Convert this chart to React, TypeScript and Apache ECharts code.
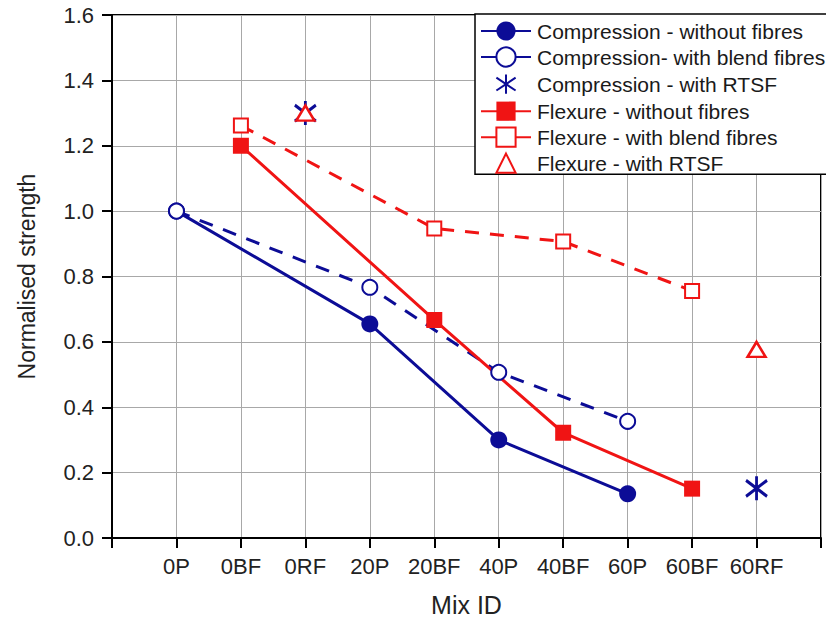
import { useEffect, useRef } from 'react';
import * as echarts from 'echarts';

const mixIds = ['', '0P', '0BF', '0RF', '20P', '20BF', '40P', '40BF', '60P', '60BF', '60RF', ''];
const compWithout = [null, 1.0, null, null, 0.655, null, 0.30, null, 0.135, null, null, null];
const compBlend = [null, 1.0, null, null, 0.767, null, 0.507, null, 0.357, null, null, null];
const compRTSF = [null, null, null, 1.30, null, null, null, null, null, null, 0.152, null];
const flexWithout = [null, null, 1.20, null, null, 0.667, null, 0.322, null, 0.151, null, null];
const flexBlend = [null, null, 1.262, null, null, 0.947, null, 0.907, null, 0.756, null, null];
const flexRTSF = [null, null, null, 1.30, null, null, null, null, null, null, 0.577, null];
const seriesNames = [
  'Compression - without fibres',
  'Compression- with blend fibres',
  'Compression - with RTSF',
  'Flexure - without fibres',
  'Flexure - with blend fibres',
  'Flexure - with RTSF',
];

const BLUE = '#0c0c96';
const RED = '#f01414';
const FONT = "'Liberation Sans', Arial, sans-serif";
const ASTERISK = 'path://M0,-12L0,12M-10,-8L10,8M-10,8L10,-8';
const TRIANGLE = 'path://M0,-10L11,8L-11,8Z';

export default function App() {
  const ref = useRef<HTMLDivElement>(null);
  useEffect(() => {
    const chart = echarts.init(ref.current!, null, { renderer: 'svg' });
    const common = {
      type: 'line',
      connectNulls: true,
      emphasis: { disabled: true },
      silent: true,
    };
    chart.setOption({
      animation: false,
      textStyle: { fontFamily: FONT },
      grid: {
        left: 112, right: 5, top: 15, bottom: 82,
        show: true, borderColor: '#000', borderWidth: 2, backgroundColor: 'transparent',
      },
      legend: {
        orient: 'vertical',
        left: 475,
        top: 14,
        backgroundColor: '#fff',
        borderColor: '#000',
        borderWidth: 1.5,
        borderRadius: 0,
        padding: [6, 3, 0, 5],
        itemWidth: 50,
        itemHeight: 24,
        itemGap: 4,
        selectedMode: false,
        lineStyle: { type: 'solid' },
        textStyle: { fontFamily: FONT, fontSize: 21, color: '#1a1a1a', lineHeight: 22, padding: [0, 0, 0, 1] },
        data: seriesNames,
      },
      xAxis: {
        type: 'category',
        data: mixIds,
        boundaryGap: false,
        name: 'Mix ID',
        nameLocation: 'middle',
        nameGap: 54,
        nameTextStyle: { fontFamily: FONT, fontSize: 25, color: '#222' },
        axisLine: { lineStyle: { color: '#000', width: 2 } },
        axisTick: { show: true, interval: 0, length: 10, lineStyle: { color: '#000', width: 2 } },
        axisLabel: { interval: 0, fontFamily: FONT, fontSize: 22, color: '#222', margin: 17 },
        splitLine: { show: true, interval: 0, lineStyle: { color: '#a8a8a8', width: 1 } },
      },
      yAxis: {
        type: 'value',
        min: 0,
        max: 1.6,
        interval: 0.2,
        name: 'Normalised strength',
        nameLocation: 'middle',
        nameGap: 74,
        nameTextStyle: { fontFamily: FONT, fontSize: 23, color: '#222' },
        axisLine: { show: true, lineStyle: { color: '#000', width: 2 } },
        axisTick: { show: true, length: 10, lineStyle: { color: '#000', width: 2 } },
        axisLabel: {
          fontFamily: FONT, fontSize: 22, color: '#222', margin: 18,
          formatter: (v: number) => v.toFixed(1),
        },
        splitLine: { show: true, lineStyle: { color: '#a8a8a8', width: 1 } },
      },
      series: [
        {
          ...common,
          name: seriesNames[0],
          data: compWithout,
          symbol: 'circle',
          symbolSize: 17,
          itemStyle: { color: BLUE },
          lineStyle: { color: BLUE, width: 3 },
        },
        {
          ...common,
          name: seriesNames[1],
          data: compBlend,
          symbol: 'circle',
          symbolSize: 15,
          itemStyle: { color: '#fff', borderColor: BLUE, borderWidth: 2 },
          lineStyle: { color: BLUE, width: 3, type: [14, 11] },
        },
        {
          ...common,
          name: seriesNames[2],
          data: compRTSF,
          connectNulls: false,
          symbol: ASTERISK,
          symbolSize: [21, 24],
          symbolKeepAspect: false,
          itemStyle: { color: 'none', borderColor: BLUE, borderWidth: 3 },
          lineStyle: { width: 0, opacity: 0 },
        },
        {
          ...common,
          name: seriesNames[3],
          data: flexWithout,
          symbol: 'rect',
          symbolSize: 16,
          itemStyle: { color: RED },
          lineStyle: { color: RED, width: 3 },
        },
        {
          ...common,
          name: seriesNames[4],
          data: flexBlend,
          symbol: 'rect',
          symbolSize: 14,
          itemStyle: { color: '#fff', borderColor: RED, borderWidth: 2 },
          lineStyle: { color: RED, width: 3, type: [14, 11] },
        },
        {
          ...common,
          name: seriesNames[5],
          data: flexRTSF,
          connectNulls: false,
          symbol: TRIANGLE,
          symbolSize: [18, 15],
          symbolKeepAspect: false,
          itemStyle: { color: '#fff', borderColor: RED, borderWidth: 2.5 },
          lineStyle: { width: 0, opacity: 0 },
        },
      ],
    });
    return () => chart.dispose();
  }, []);
  return <div ref={ref} style={{ width: 826, height: 622, position: 'absolute', left: 0, top: 0 }} />;
}
